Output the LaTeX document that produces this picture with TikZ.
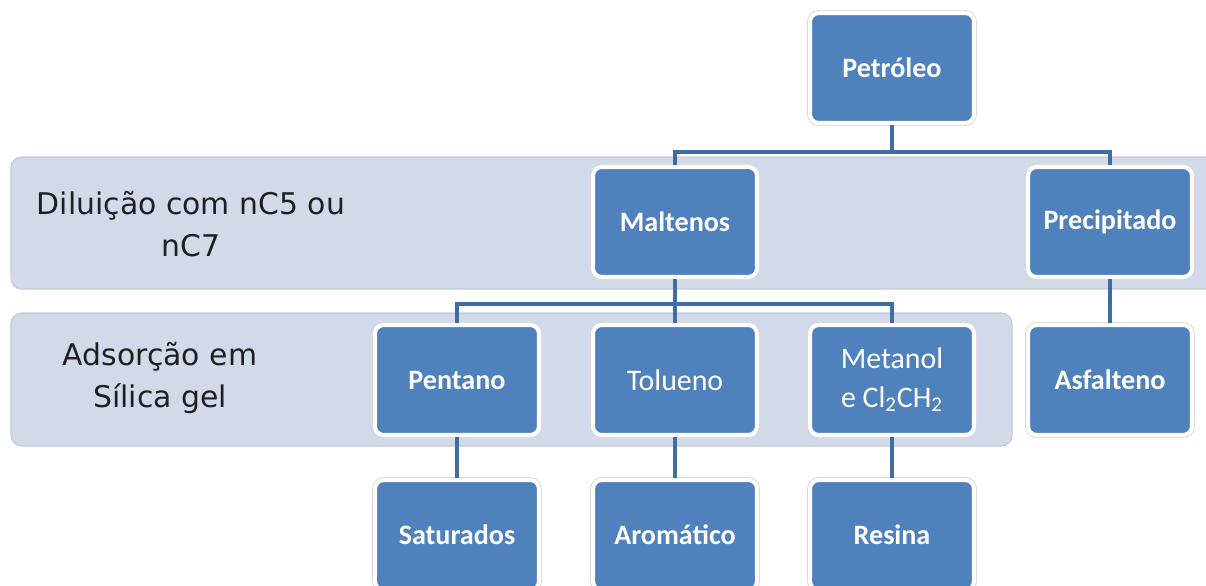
\documentclass[tikz,border=0pt]{standalone}
\usepackage{fontspec}
\setmainfont{Carlito}
\newfontfamily\labelfont{DejaVu Sans}
\usepackage{tikz}
\usetikzlibrary{positioning}
\usepackage{xcolor}
\definecolor{boxblue}{HTML}{4F81BD}
\definecolor{linkblue}{HTML}{3E6CA4}
\definecolor{bandfill}{HTML}{D2D9E8}
\definecolor{bandline}{HTML}{C3CBDB}

\tikzset{
  box/.style={rectangle, rounded corners=5pt, fill=boxblue, draw=white, line width=2.3pt,
    preaction={draw=black!15, line width=3.3pt},
    minimum width=3.28cm, minimum height=2.2cm, text=white, align=center,
    font=\fontsize{16}{21}\selectfont\bfseries},
  plainbox/.style={box, font=\fontsize{17}{22}\selectfont},
  band/.style={fill=bandfill, draw=bandline, line width=0.6pt, rounded corners=6pt},
  stagelabel/.style={align=center, text=black!88, font=\labelfont\fontsize{17}{24}\selectfont},
  conn/.style={draw=linkblue, line width=2.2pt}
}

\begin{document}
\begin{tikzpicture}[x=0.02cm, y=-0.02cm]
  \useasboundingbox (0,0) rectangle (1206,585);
  % faixas de fundo
  \draw[band] (11,157) rectangle (1240,289);
  \draw[band] (11,313) rectangle (1012,446);
  \node[stagelabel] (diluicao) at (191,224) {Diluição com nC5 ou\\nC7};
  \node[stagelabel] (adsorcao) at (160,378) {Adsorção em\\Sílica gel};
  % caixas
  \node[box] (petroleo) at (892,68) {Petróleo};
  \node[box] (maltenos) at (675,222) {Maltenos};
  \node[box] (precipitado) at (1110,222) {Precipitado};
  \node[box] (pentano) at (457,380) {Pentano};
  \node[plainbox] (tolueno) at (675,380) {Tolueno};
  \node[plainbox] (metanol) at (892,380) {Metanol\\e Cl\textsubscript{2}CH\textsubscript{2}};
  \node[box] (asfalteno) at (1110,380) {Asfalteno};
  \node[box] (saturados) at (457,535) {Saturados};
  \node[box] (aromatico) at (675,535) {Aromático};
  \node[box] (resina) at (892,535) {Resina};
  % ligacoes
  \draw[conn] (petroleo.south) -- ++(0,27) -| (maltenos.north);
  \draw[conn] (petroleo.south) -- ++(0,27) -| (precipitado.north);
  \draw[conn] (maltenos.south) -- ++(0,25) -| (pentano.north);
  \draw[conn] (maltenos.south) -- (tolueno.north);
  \draw[conn] (maltenos.south) -- ++(0,25) -| (metanol.north);
  \draw[conn] (precipitado.south) -- (asfalteno.north);
  \draw[conn] (pentano.south) -- (saturados.north);
  \draw[conn] (tolueno.south) -- (aromatico.north);
  \draw[conn] (metanol.south) -- (resina.north);
\end{tikzpicture}
\end{document}
